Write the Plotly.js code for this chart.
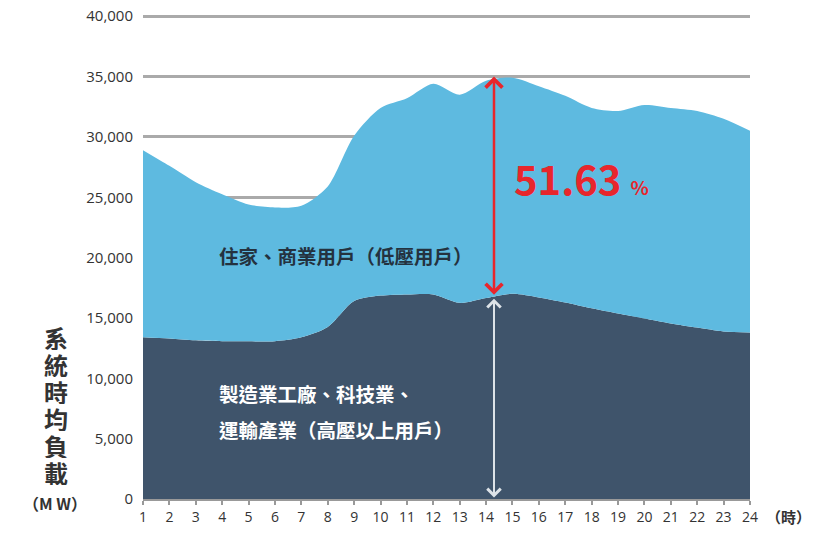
<!DOCTYPE html>
<html>
<head>
<meta charset="utf-8">
<script src="https://cdn.plot.ly/plotly-3.0.1.min.js"></script>
<style>
  html, body { margin: 0; padding: 0; background: #fff; }
  #chart { width: 823px; height: 535px; }
</style>
</head>
<body>
<div id="chart"></div>
<script>
// hourly load (MW)
const hours = [1, 2, 3, 4, 5, 6, 7, 8, 9, 10, 11, 12, 13, 14, 15, 16, 17, 18, 19, 20, 21, 22, 23, 24];
const totalLoad = [28900, 27600, 26250, 25250, 24400, 24150, 24300, 25900, 30100, 32400, 33200, 34400, 33500, 34650, 34900, 34200, 33400, 32400, 32150, 32650, 32400, 32150, 31500, 30500];
const industrialLoad = [13400, 13300, 13150, 13080, 13060, 13080, 13400, 14250, 16400, 16850, 16950, 16950, 16250, 16650, 17000, 16700, 16280, 15800, 15370, 14960, 14550, 14200, 13880, 13800];
const yTicks = [0, 5000, 10000, 15000, 20000, 25000, 30000, 35000, 40000];
const yTitleChars = ['系', '統', '時', '均', '負', '載'];

const peakHour = 14.3;
const peakLoad = 35000;
const peakIndustrial = 16800;
const shareText = "51.63";

const cjk = '"Noto Sans CJK TC", "Noto Sans", sans-serif';

const traces = [
    {
        x: hours, y: industrialLoad,
        type: 'scatter', mode: 'lines',
        line: { shape: 'spline', smoothing: 0.8, width: 0, color: '#3f546b' },
        fill: 'tozeroy', fillcolor: '#3f546b',
        hoverinfo: 'skip'
    },
    {
        x: hours, y: totalLoad,
        type: 'scatter', mode: 'lines',
        line: { shape: 'spline', smoothing: 0.8, width: 0, color: '#5ebae0' },
        fill: 'tonexty', fillcolor: '#5ebae0',
        hoverinfo: 'skip'
    }
];

const annotations = [
    // red arrow: residential share at peak
    {
        x: peakHour, y: peakLoad, ax: peakHour, ay: peakIndustrial,
        xref: 'x', yref: 'y', axref: 'x', ayref: 'y',
        showarrow: true, arrowside: 'end+start', arrowhead: 4, startarrowhead: 4,
        arrowsize: 1.3, startarrowsize: 1.3, arrowwidth: 2.5, arrowcolor: '#e8262c', text: ''
    },
    // white arrow: industrial part
    {
        x: peakHour, y: peakIndustrial - 200, ax: peakHour, ay: 0,
        xref: 'x', yref: 'y', axref: 'x', ayref: 'y',
        showarrow: true, arrowside: 'end+start', arrowhead: 4, startarrowhead: 4,
        arrowsize: 1.3, startarrowsize: 1.3, arrowwidth: 2, arrowcolor: '#dde3e8', text: ''
    },
    {
        x: 15.0, y: 26600, xref: 'x', yref: 'y', xanchor: 'left', yanchor: 'middle', showarrow: false,
        text: '<b>' + shareText + '</b> <b><span style="font-size:19px">%</span></b>',
        font: { family: cjk, size: 40, color: '#e8262c' }
    },
    {
        x: 3.8, y: 20200, xref: 'x', yref: 'y', xanchor: 'left', yanchor: 'middle', showarrow: false,
        text: '<b>住家、商業用戶（低壓用戶）</b>',
        font: { family: cjk, size: 19.5, color: '#24323f' }
    },
    {
        x: 3.8, y: 8700, xref: 'x', yref: 'y', xanchor: 'left', yanchor: 'middle', showarrow: false,
        text: '<b>製造業工廠、科技業、</b>',
        font: { family: cjk, size: 19.5, color: '#ffffff' }
    },
    {
        x: 3.8, y: 5800, xref: 'x', yref: 'y', xanchor: 'left', yanchor: 'middle', showarrow: false,
        text: '<b>運輸產業（高壓以上用戶）</b>',
        font: { family: cjk, size: 19.5, color: '#ffffff' }
    },
    {
        x: 55, y: 503, xref: 'paper', yref: 'paper', xanchor: 'center', yanchor: 'middle', showarrow: false,
        text: '<b>（M W）</b>',
        font: { family: cjk, size: 16, color: '#333333' }
    },
    {
        x: 788, y: 516, xref: 'paper', yref: 'paper', xanchor: 'center', yanchor: 'middle', showarrow: false,
        text: '<b>（時）</b>',
        font: { family: cjk, size: 15, color: '#333333' }
    }
];

// y axis title, one character per row
yTitleChars.forEach((ch, i) => {
    annotations.push({
        x: 56, y: 337 + i * 27, xref: 'paper', yref: 'paper', xanchor: 'center', yanchor: 'middle',
        height: 26, showarrow: false, text: '<b>' + ch + '</b>',
        font: { family: cjk, size: 24, color: '#333333' }
    });
});

// pixel helpers for the paper-positioned labels
const W = 823, H = 535, M = { l: 143, r: 73, t: 15, b: 36 };
annotations.forEach(a => {
    if (a.xref === 'paper') {
        a.x = (a.x - M.l) / (W - M.l - M.r);
        a.y = 1 - (a.y - M.t) / (H - M.t - M.b);
    }
});

const layout = {
    width: W, height: H,
    margin: M,
    paper_bgcolor: '#ffffff', plot_bgcolor: '#ffffff',
    showlegend: false,
    font: { family: cjk, color: '#333333' },
    xaxis: {
        range: [1, 24], tickvals: hours,
        showgrid: false, zeroline: false,
        showline: true, linecolor: '#999999', linewidth: 2,
        ticks: 'outside', ticklen: 4, tickwidth: 2, tickcolor: '#999999',
        tickfont: { family: 'Open Sans, sans-serif', size: 14, color: '#333333' }
    },
    yaxis: {
        range: [0, 40100], tickvals: yTicks, tickformat: ',',
        showgrid: true, gridcolor: '#aaaaaa', gridwidth: 3,
        zeroline: false, showline: false, ticks: '',
        ticklabelstandoff: 9,
        tickfont: { family: 'Open Sans, sans-serif', size: 15, color: '#333333' }
    },
    annotations: annotations
};

Plotly.newPlot('chart', traces, layout, { displayModeBar: false, staticPlot: true });
</script>
</body>
</html>
